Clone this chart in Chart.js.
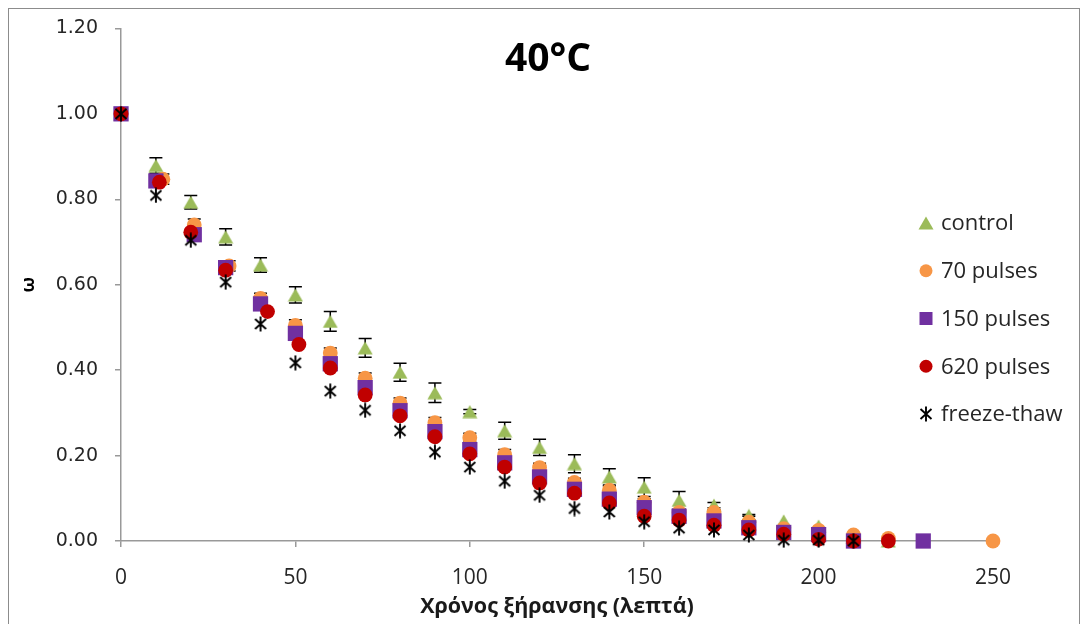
<!DOCTYPE html>
<html>
<head>
<meta charset="utf-8">
<script src="https://cdn.jsdelivr.net/npm/chart.js@4.4.1/dist/chart.umd.min.js"></script>
<style>
  html, body { margin: 0; padding: 0; background: #fff; }
  canvas { display: block; }
</style>
</head>
<body>
<canvas id="c" width="1085" height="624"></canvas>
<script>
// ---------- data ----------
const chartTitle = '40°C';
const xTitle = 'Χρόνος ξήρανσης (λεπτά)';
const yTitle = 'ω';
const seriesNames = ['control', '70 pulses', '150 pulses', '620 pulses', 'freeze-thaw'];

const timeControl = [0,10,20,30,40,50,60,70,80,90,100,110,120,130,140,150,160,170,180,190,200,210,220];
const control     = [1.00,0.879,0.793,0.712,0.646,0.576,0.514,0.452,0.395,0.347,0.303,0.258,0.219,0.181,0.150,0.126,0.095,0.084,0.060,0.047,0.035,0.010,0.000];
const controlErr  = [0,0.018,0.016,0.019,0.017,0.019,0.023,0.022,0.021,0.023,0.005,0.020,0.019,0.021,0.019,0.022,0.021,0.006,0.002,0,0,0,0];

const time70   = [0,12,21,31,40,50,60,70,80,90,100,110,120,130,140,150,160,170,180,190,200,210,220,250];
const pulses70 = [1.00,0.847,0.740,0.644,0.568,0.505,0.440,0.381,0.323,0.277,0.242,0.202,0.172,0.137,0.119,0.091,0.067,0.067,0.044,0.029,0.025,0.014,0.006,0.000];
const pulses70Err = [0,0.012,0.014,0.012,0.012,0.013,0.012,0.012,0.012,0.012,0.010,0.012,0.010,0.010,0.010,0.008,0.008,0.006,0.006,0.005,0.004,0.003,0.002,0];

const time150   = [0,10,21,30,40,50,60,70,80,90,100,110,120,130,140,150,160,170,180,190,200,210,230];
const pulses150 = [1.00,0.843,0.717,0.640,0.555,0.486,0.415,0.359,0.305,0.256,0.214,0.183,0.150,0.121,0.098,0.078,0.058,0.047,0.031,0.020,0.015,0.000,0.000];

const time620   = [0,11,20,30,42,51,60,70,80,90,100,110,120,130,140,150,160,170,180,190,200,210,220];
const pulses620 = [1.00,0.840,0.723,0.634,0.537,0.460,0.405,0.342,0.293,0.244,0.204,0.173,0.136,0.112,0.089,0.058,0.049,0.037,0.026,0.016,0.004,0.000,0.000];

const timeFT     = [0,10,20,30,40,50,60,70,80,90,100,110,120,130,140,150,160,170,180,190,200,210];
const freezeThaw = [1.00,0.809,0.704,0.606,0.508,0.417,0.351,0.306,0.258,0.208,0.173,0.140,0.107,0.076,0.068,0.045,0.030,0.026,0.014,0.002,0.002,0.000];

const xTicks = [0, 50, 100, 150, 200, 250];
const yTicks = [0, 0.2, 0.4, 0.6, 0.8, 1.0, 1.2];

// ---------- styles ----------
const colors = ['#9bbb59', '#f79646', '#7030a0', '#c00000', '#000000'];

function makeTriangle(color) {
  const c = document.createElement('canvas');
  c.width = 16; c.height = 14;
  const g = c.getContext('2d');
  g.fillStyle = color;
  g.beginPath();
  g.moveTo(8, 0.5); g.lineTo(15.5, 13.5); g.lineTo(0.5, 13.5); g.closePath();
  g.fill();
  return c;
}
function makeStar(color) {
  const c = document.createElement('canvas');
  c.width = 14; c.height = 16;
  const g = c.getContext('2d');
  g.strokeStyle = color; g.lineWidth = 1.9; g.lineCap = 'butt';
  g.beginPath();
  g.moveTo(7, 0.5); g.lineTo(7, 15.5);
  g.moveTo(1.5, 3); g.lineTo(12.5, 13);
  g.moveTo(12.5, 3); g.lineTo(1.5, 13);
  g.stroke();
  return c;
}
const triImg = makeTriangle(colors[0]);
const starImg = makeStar(colors[4]);

const pts = (xs, ys) => xs.map((x, i) => ({ x: x, y: ys[i] }));

const errorMap = { 'control': controlErr, '70 pulses': pulses70Err };

const datasets = [
  { label: seriesNames[0], data: pts(timeControl, control), pointStyle: triImg, pointRadius: 7, backgroundColor: colors[0], borderColor: colors[0], order: 5 },
  { label: seriesNames[1], data: pts(time70, pulses70), pointStyle: 'circle', pointRadius: 7.4, backgroundColor: colors[1], borderColor: colors[1], borderWidth: 0, order: 4 },
  { label: seriesNames[2], data: pts(time150, pulses150), pointStyle: 'rect', pointRadius: 10.8, backgroundColor: colors[2], borderColor: colors[2], borderWidth: 0, order: 3 },
  { label: seriesNames[3], data: pts(time620, pulses620), pointStyle: 'circle', pointRadius: 7.4, backgroundColor: colors[3], borderColor: colors[3], borderWidth: 0, order: 2 },
  { label: seriesNames[4], data: pts(timeFT, freezeThaw), pointStyle: starImg, pointRadius: 7, backgroundColor: colors[4], borderColor: colors[4], order: 1 }
].map(d => Object.assign({ showLine: false, clip: false, pointHoverRadius: d.pointRadius }, d));

// ---------- plugins ----------
const framePlugin = {
  id: 'frame',
  beforeDraw(chart) {
    const ctx = chart.ctx;
    ctx.save();
    ctx.fillStyle = '#ffffff';
    ctx.fillRect(0, 0, chart.width, chart.height);
    ctx.strokeStyle = '#8c8c8c';
    ctx.lineWidth = 1;
    ctx.strokeRect(8.5, 8.5, 1071, 700);
    ctx.restore();
  }
};

const errorBarPlugin = {
  id: 'errorBars',
  beforeDatasetDraw(chart, args) {
    const ds = chart.data.datasets[args.index];
    const errs = errorMap[ds.label];
    if (!errs) return;
    const ctx = chart.ctx, xs = chart.scales.x, ys = chart.scales.y;
    ctx.save();
    ctx.strokeStyle = '#000';
    ctx.lineWidth = 1.5;
    ds.data.forEach((p, i) => {
      const e = errs[i];
      if (!e) return;
      const px = xs.getPixelForValue(p.x);
      const top = ys.getPixelForValue(p.y + e);
      const bot = ys.getPixelForValue(p.y - e);
      ctx.beginPath();
      ctx.moveTo(px, top); ctx.lineTo(px, bot);
      ctx.moveTo(px - 6.5, top); ctx.lineTo(px + 6.5, top);
      ctx.moveTo(px - 6.5, bot); ctx.lineTo(px + 6.5, bot);
      ctx.stroke();
    });
    ctx.restore();
  }
};

const titleLegendPlugin = {
  id: 'titleLegend',
  afterDraw(chart) {
    const ctx = chart.ctx;
    ctx.save();
    // title
    ctx.fillStyle = '#000';
    ctx.font = 'bold 39px "Open Sans"';
    ctx.textAlign = 'center';
    ctx.textBaseline = 'middle';
    ctx.fillText(chartTitle, 548, 60);
    // legend
    const mx = 926, tx = 941, y0 = 223, dy = 47.75;
    ctx.font = '22px "Open Sans"';
    ctx.textAlign = 'left';
    seriesNames.forEach((name, i) => {
      const y = y0 + i * dy;
      const col = colors[i];
      if (i === 0) {
        ctx.drawImage(triImg, mx - 8, y - 7);
      } else if (i === 1 || i === 3) {
        ctx.fillStyle = col;
        ctx.beginPath(); ctx.arc(mx, y, 6.5, 0, Math.PI * 2); ctx.fill();
      } else if (i === 2) {
        ctx.fillStyle = col;
        ctx.fillRect(mx - 6.5, y - 6.5, 13, 13);
      } else {
        ctx.drawImage(starImg, mx - 7, y - 8);
      }
      ctx.fillStyle = '#262626';
      ctx.fillText(name, tx, y + 1);
    });
    ctx.restore();
  }
};

// ---------- chart ----------
new Chart(document.getElementById('c'), {
  type: 'scatter',
  data: { datasets: datasets },
  plugins: [framePlugin, errorBarPlugin, titleLegendPlugin],
  options: {
    responsive: false,
    animation: false,
    devicePixelRatio: 1,
    layout: { padding: { top: 23, right: 92, bottom: 0, left: 0 } },
    plugins: { legend: { display: false }, tooltip: { enabled: false }, title: { display: false } },
    scales: {
      x: {
        type: 'linear',
        min: xTicks[0], max: xTicks[xTicks.length - 1],
        afterBuildTicks: (s) => { s.ticks = xTicks.map(v => ({ value: v })); },
        afterFit: (s) => { s.height = 83; },
        ticks: { color: '#262626', font: { family: 'Open Sans', size: 21 }, padding: 18, maxRotation: 0, callback: (v) => String(v) },
        grid: { display: true, drawOnChartArea: false, drawTicks: true, tickLength: 6, color: '#999999', lineWidth: 1.5 },
        border: { display: true, color: '#999999', width: 1.5 },
        title: { display: true, text: xTitle, color: '#1a1a1a', font: { family: 'Open Sans', size: 21.5, weight: 'bold' }, padding: { top: 0, bottom: 4 } }
      },
      y: {
        type: 'linear',
        min: yTicks[0], max: yTicks[yTicks.length - 1],
        afterBuildTicks: (s) => { s.ticks = yTicks.map(v => ({ value: v })); },
        afterFit: (s) => { s.width = 121; },
        ticks: { color: '#262626', font: { family: 'DejaVu Sans', size: 19 }, padding: 17, callback: (v) => Number(v).toFixed(2) },
        grid: { display: true, drawOnChartArea: false, drawTicks: true, tickLength: 6, color: '#999999', lineWidth: 1.5 },
        border: { display: true, color: '#999999', width: 1.5 },
        title: { display: true, text: yTitle, color: '#000', font: { family: 'Open Sans', size: 18, weight: 'bold' }, padding: { top: 18, bottom: 0 } }
      }
    }
  }
});
</script>
</body>
</html>
